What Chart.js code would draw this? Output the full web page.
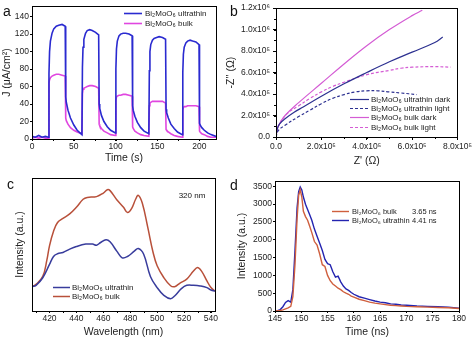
<!DOCTYPE html>
<html>
<head>
<meta charset="utf-8">
<script src="https://cdn.jsdelivr.net/npm/chart.js@4.4.1/dist/chart.umd.min.js"></script>
<style>
html, body { margin: 0; padding: 0; background: #fff; }
#wrap { position: relative; width: 474px; height: 338px; overflow: hidden; }
.panel { position: absolute; }
</style>
</head>
<body>
<div id="wrap">
  <div class="panel" style="left:0;top:0;width:224px;height:169px"><canvas id="chartA"></canvas></div>
  <div class="panel" style="left:224px;top:0;width:250px;height:169px"><canvas id="chartB"></canvas></div>
  <div class="panel" style="left:0;top:169px;width:224px;height:169px"><canvas id="chartC"></canvas></div>
  <div class="panel" style="left:224px;top:169px;width:250px;height:169px"><canvas id="chartD"></canvas></div>
</div>
<script>
// a: photocurrent vs time (s), light on/off every 20 s
const timeA = [0, 4, 8, 12, 16, 19.7,
  20.3, 21, 22, 24, 26, 29, 32, 36, 39.7, 40.3, 41, 43, 46, 50, 54, 59.7,
  60.3, 61, 62, 64, 66, 69, 72, 76, 79.7, 80.3, 81, 83, 86, 90, 94, 99.7,
  100.3, 101, 102, 104, 106, 109, 112, 116, 119.7, 120.3, 121, 123, 126, 130, 134, 139.7,
  140.3, 141, 142, 144, 146, 149, 152, 156, 159.7, 160.3, 161, 163, 166, 170, 174, 179.7,
  180.3, 181, 182, 184, 186, 189, 192, 196, 199.7, 200.3, 201, 203, 206, 210, 214, 220];
const ultraA = [3, 2, 4, 2, 3, 2,
  75, 100, 112, 121, 126, 129, 130, 131, 129, 48, 42, 33, 24, 16, 10, 5,
  82, 105, 114, 121, 124, 125, 124, 122, 119, 40, 35, 27, 20, 14, 10, 7,
  80, 103, 112, 118, 120, 121, 121, 120, 118, 38, 33, 26, 19, 13, 9, 6,
  78, 100, 108, 113, 115, 116, 117, 116, 114, 34, 30, 24, 17, 12, 8, 5,
  76, 97, 105, 110, 112, 113, 112, 111, 108, 18, 16, 13, 10, 7, 5, 3];
const bulkA = [1, 2, 1, 2, 1, 1,
  64, 68, 70, 72, 73, 74, 74, 73, 72, 24, 21, 17, 13, 10, 8, 6,
  52, 57, 58, 59, 60, 61, 61, 60, 58, 17, 15, 12, 9, 7, 5, 4,
  44, 48, 49, 50, 50, 51, 51, 50, 49, 14, 12, 9, 7, 5, 4, 3,
  38, 41, 42, 43, 43, 43, 43, 43, 41, 11, 10, 8, 6, 4, 3, 2,
  33, 36, 37, 37, 38, 38, 38, 38, 37, 9, 8, 6, 5, 3, 2, 2];
const ticksAx = [0, 50, 100, 150, 200];
const ticksAy = [0, 20, 40, 60, 80, 100, 120, 140];

// b: Nyquist plots, both axes in units of 1e5 ohm
const ultraDarkX = [0, 0.05, 0.15, 0.4, 0.8, 1.2, 2, 3, 4, 5, 6, 7, 7.35];
const ultraDarkY = [0, 0.7, 1.2, 1.7, 2.3, 2.8, 3.8, 4.95, 6.0, 7.0, 7.9, 8.8, 9.3];
const ultraLightX = [0, 0.1, 0.4, 1, 1.5, 2, 2.5, 3, 3.5, 4, 4.5, 5, 5.5, 6.2];
const ultraLightY = [0, 0.6, 1.1, 1.9, 2.5, 3.1, 3.6, 3.95, 4.2, 4.3, 4.3, 4.2, 4.1, 3.95];
const bulkDarkX = [0, 0.1, 0.4, 1, 2, 3, 4, 5, 6, 6.45];
const bulkDarkY = [0, 1.0, 2.0, 3.2, 5.0, 6.8, 8.5, 10.0, 11.3, 11.8];
const bulkLightX = [0, 0.1, 0.5, 1, 1.5, 2, 2.5, 3, 4, 5, 5.5, 6, 7, 7.7];
const bulkLightY = [0, 1.0, 2.2, 2.9, 3.6, 4.2, 4.7, 5.1, 5.8, 6.2, 6.4, 6.5, 6.55, 6.5];
const ticksBx = [0, 2, 4, 6, 8];
const ticksBy = [0, 2, 4, 6, 8, 10, 12];

// c: PL spectra (a.u.)
const wlBulk = [407, 410, 415, 418, 420, 423, 426, 430, 435, 440, 445, 448, 455, 460, 463, 465, 470, 475, 478, 481, 484, 486, 489, 493, 497, 500, 505, 510, 513, 517, 522, 527, 530, 533, 537, 540, 543];
const bulkC = [18.3, 20, 26, 38, 49, 60, 66.5, 69.6, 73, 78, 84, 85.4, 86, 88.7, 91.2, 90.5, 83.7, 78, 74, 77, 84, 87, 81, 63, 44, 34, 25, 19, 18.3, 21, 24, 30, 32.7, 30, 22.6, 17.6, 15];
const wlUltra = [407, 410, 415, 420, 423, 426, 430, 435, 440, 447, 452, 455, 458, 462, 465, 470, 474, 478, 483, 486, 490, 495, 500, 505, 510, 513, 518, 522, 527, 532, 537, 540, 543];
const ultraC = [18.3, 19.3, 25, 35, 41, 43, 44, 46.5, 48.5, 50.3, 50.3, 49.5, 51.5, 53.5, 52, 45, 40, 41, 45, 47, 42.7, 26, 17.6, 11.8, 9.3, 11.3, 16.8, 19.3, 19.3, 18.8, 17.6, 15.8, 15];
const ticksCx = [420, 440, 460, 480, 500, 520, 540];

// d: PL decay (ns)
const timeD = [145, 145.5, 146, 146.5, 147, 147.5, 148, 148.4, 148.8, 149.2, 149.5, 149.8, 150.1, 150.4, 150.8, 151.2, 151.6, 152, 152.5, 153,
  153.5, 154, 154.5, 155, 155.5, 156, 156.5, 157, 157.5, 158, 158.5, 159, 159.5, 160, 161, 162, 163, 164, 165, 166,
  167, 168, 169, 170, 172, 174, 176, 178, 180];
const bulkD = [0, 5, 15, 30, 60, 90, 130, 400, 1300, 2600, 3250, 3400, 3200, 2800, 2650, 2550, 2380, 2200, 1950, 1850,
  1600, 1300, 1250, 1000, 850, 760, 700, 640, 600, 540, 500, 470, 420, 390, 330, 290, 250, 220, 200, 180,
  160, 150, 140, 130, 120, 110, 100, 90, 70];
const ultraD = [0, 10, 40, 120, 240, 290, 250, 600, 1700, 2900, 3350, 3480, 3400, 3200, 3000, 2850, 2700, 2550, 2300, 2100,
  1900, 1700, 1450, 1330, 1300, 1100, 950, 980, 820, 700, 620, 580, 520, 470, 400, 360, 320, 280, 250, 230,
  200, 190, 170, 160, 140, 130, 120, 110, 80];
const lifetimes = ['3.65 ns', '4.41 ns'];
const ticksDx = [145, 150, 155, 160, 165, 170, 175, 180];
const ticksDy = [0, 500, 1000, 1500, 2000, 2500, 3000, 3500];

const FONT = '"Liberation Sans", Arial, Helvetica, sans-serif';
Chart.defaults.font.family = FONT;
Chart.defaults.color = '#222';

function pts(xs, ys) {
  return xs.map((x, i) => ({ x: x, y: ys[i] }));
}

// box round the plot area
const framePlugin = {
  id: 'frame',
  afterDraw(chart) {
    const { ctx, chartArea: a } = chart;
    ctx.save();
    ctx.strokeStyle = '#000';
    ctx.lineWidth = 1;
    ctx.strokeRect(Math.round(a.left) + 0.5, Math.round(a.top) + 0.5,
      Math.round(a.right - a.left), Math.round(a.bottom - a.top));
    ctx.restore();
  }
};

// small legend with line samples, drawn inside the plot
const lineLegend = {
  id: 'lineLegend',
  afterDraw(chart, args, o) {
    if (!o || o.x === undefined) return;
    const ctx = chart.ctx;
    ctx.save();
    ctx.font = (o.size || 8) + 'px ' + FONT;
    ctx.textBaseline = 'middle';
    ctx.fillStyle = '#222';
    chart.data.datasets.forEach((ds, i) => {
      const y = Math.round(o.y + i * o.dy) + 0.5;
      ctx.beginPath();
      ctx.setLineDash(ds.borderDash || []);
      ctx.strokeStyle = ds.borderColor;
      ctx.lineWidth = ds.borderWidth;
      ctx.moveTo(o.x, y);
      ctx.lineTo(o.x + o.len, y);
      ctx.stroke();
      ctx.setLineDash([]);
      ctx.fillText(ds.label, o.x + o.len + o.gap, y);
      if (o.notes) ctx.fillText(o.notes[i], o.noteX, y);
    });
    ctx.restore();
  }
};

// panel letters and free text
const notesPlugin = {
  id: 'notes',
  afterDraw(chart, args, o) {
    if (!o || !o.items) return;
    const ctx = chart.ctx;
    ctx.save();
    ctx.fillStyle = '#111';
    ctx.textBaseline = 'middle';
    for (const it of o.items) {
      ctx.font = (it.size || 14) + 'px ' + FONT;
      ctx.textAlign = it.align || 'left';
      ctx.fillText(it.text, it.x, it.y);
    }
    ctx.restore();
  }
};

// short minor tick marks
const minorTicks = {
  id: 'minorTicks',
  afterDraw(chart, args, o) {
    const ctx = chart.ctx;
    ctx.save();
    ctx.strokeStyle = '#000';
    ctx.lineWidth = 1;
    for (const id of ['x', 'y']) {
      const step = o && o[id];
      if (!step) continue;
      const s = chart.scales[id];
      for (let v = Math.ceil(s.min / step) * step; v <= s.max + 1e-9; v += step) {
        const p = Math.round(s.getPixelForValue(v)) + 0.5;
        ctx.beginPath();
        if (id === 'x') { ctx.moveTo(p, s.top); ctx.lineTo(p, s.top + 2); }
        else { ctx.moveTo(s.right, p); ctx.lineTo(s.right - 2, p); }
        ctx.stroke();
      }
    }
    ctx.restore();
  }
};

function makeAxis(o) {
  const showTicks = o.ticks !== false;
  return {
    type: 'linear',
    min: o.min,
    max: o.max,
    afterFit: s => { if (s.isHorizontal()) s.height = o.size; else s.width = o.size; },
    afterBuildTicks: s => { if (o.vals) s.ticks = o.vals.map(v => ({ value: v })); },
    border: { display: true, color: '#000', width: 1 },
    grid: { display: showTicks, drawOnChartArea: false, drawTicks: true, tickLength: o.tickLen || 2, tickColor: '#000' },
    ticks: {
      display: showTicks, includeBounds: false, autoSkip: false, source: 'ticks',
      padding: o.pad === undefined ? 1 : o.pad,
      font: { size: 8.5 }, color: '#222', maxRotation: 0,
      callback: o.fmt || (v => String(v))
    },
    title: { display: true, text: o.title, font: { size: 10.5 }, color: '#222', padding: o.tpad }
  };
}

function makeChart(id, o) {
  return new Chart(document.getElementById(id), {
    type: 'line',
    data: { datasets: o.datasets },
    options: {
      responsive: true,
      maintainAspectRatio: false,
      animation: false,
      layout: { padding: o.padding },
      elements: { point: { radius: 0 }, line: { fill: false } },
      scales: { x: o.x, y: o.y },
      plugins: {
        legend: { display: false },
        tooltip: { enabled: false },
        lineLegend: o.legend,
        notes: { items: o.notes },
        minorTicks: o.minor || {}
      }
    },
    plugins: [framePlugin, lineLegend, notesPlugin, minorTicks]
  });
}

const SUB = 'Bi\u2082MoO\u2086';

makeChart('chartA', {
  padding: { left: 0, right: 8, top: 4, bottom: 0 },
  datasets: [
    { label: SUB + ' ultrathin', data: pts(timeA, ultraA), borderColor: '#2a2ad0', borderWidth: 1.6, tension: 0 },
    { label: SUB + ' bulk', data: pts(timeA, bulkA), borderColor: '#e046e0', borderWidth: 1.6, tension: 0 }
  ],
  x: makeAxis({ min: 0, max: 220, vals: ticksAx, size: 30, title: 'Time (s)', tpad: { bottom: 5 } }),
  y: makeAxis({ min: 0, max: 152, vals: ticksAy, size: 32, title: 'J (\u03bcA/cm\u00b2)', tpad: { top: 1 } }),
  legend: { x: 124, y: 13, dy: 10, len: 18, gap: 3 },
  notes: [{ text: 'a', x: 3, y: 12 }],
  minor: { x: 25 }
});

const fmtB = v => v === 0 ? '0.0' : (v >= 10 ? (v / 10).toFixed(1) + 'x10\u2076' : v.toFixed(1) + 'x10\u2075');

makeChart('chartB', {
  padding: { left: 0, right: 14, top: 6, bottom: 0 },
  datasets: [
    { label: SUB + ' ultrathin dark', data: pts(ultraDarkX, ultraDarkY), borderColor: '#2c3090', borderWidth: 1.2, tension: 0.4 },
    { label: SUB + ' ultrathin light', data: pts(ultraLightX, ultraLightY), borderColor: '#2c3090', borderWidth: 1.2, borderDash: [3, 2], tension: 0.4 },
    { label: SUB + ' bulk dark', data: pts(bulkDarkX, bulkDarkY), borderColor: '#d45cd4', borderWidth: 1.2, tension: 0.4 },
    { label: SUB + ' bulk light', data: pts(bulkLightX, bulkLightY), borderColor: '#d45cd4', borderWidth: 1.2, borderDash: [3, 2], tension: 0.4 }
  ],
  x: makeAxis({ min: 0, max: 8, vals: ticksBx, size: 32, title: "Z' (\u03a9)", tpad: { bottom: 2 }, fmt: fmtB, tickLen: 3, pad: 2 }),
  y: makeAxis({ min: 0, max: 12, vals: ticksBy, size: 52, title: "-Z'' (\u03a9)", tpad: { top: 1 }, fmt: fmtB, tickLen: 3, pad: 3 }),
  legend: { x: 126, y: 99, dy: 9.2, len: 19, gap: 2 },
  notes: [{ text: 'b', x: 6, y: 12 }],
  minor: { x: 1, y: 1 }
});

makeChart('chartC', {
  padding: { left: 0, right: 9, top: 9, bottom: 0 },
  datasets: [
    { label: SUB + ' ultrathin', data: pts(wlUltra, ultraC), borderColor: '#383c9c', borderWidth: 1.5, tension: 0.4 },
    { label: SUB + ' bulk', data: pts(wlBulk, bulkC), borderColor: '#b8503a', borderWidth: 1.5, tension: 0.4 }
  ],
  x: makeAxis({ min: 407, max: 543, vals: ticksCx, size: 27, title: 'Wavelength (nm)', tpad: { bottom: 0 } }),
  y: makeAxis({ min: 0, max: 100, size: 32, ticks: false, title: 'Intensity (a.u.)', tpad: { top: 14 } }),
  legend: { x: 53, y: 118, dy: 9, len: 17, gap: 2 },
  notes: [{ text: 'c', x: 7, y: 16 }, { text: '320 nm', x: 192, y: 27, size: 8, align: 'center' }],
  minor: { x: 10 }
});

makeChart('chartD', {
  padding: { left: 0, right: 15, top: 12, bottom: 0 },
  datasets: [
    { label: SUB + ' bulk', data: pts(timeD, bulkD), borderColor: '#cf5f3e', borderWidth: 1.4, tension: 0 },
    { label: SUB + ' ultrathin', data: pts(timeD, ultraD), borderColor: '#2424b0', borderWidth: 1.4, tension: 0 }
  ],
  x: makeAxis({ min: 145, max: 180, vals: ticksDx, size: 27, title: 'Time (ns)', tpad: { bottom: 0 } }),
  y: makeAxis({ min: 0, max: 3650, vals: ticksDy, size: 51, title: 'Intensity (a.u.)', tpad: { top: 12 } }),
  legend: { x: 108, y: 42, dy: 9, len: 17, gap: 3, size: 7.5, notes: lifetimes, noteX: 188 },
  notes: [{ text: 'd', x: 6, y: 17 }]
});
</script>
</body>
</html>
